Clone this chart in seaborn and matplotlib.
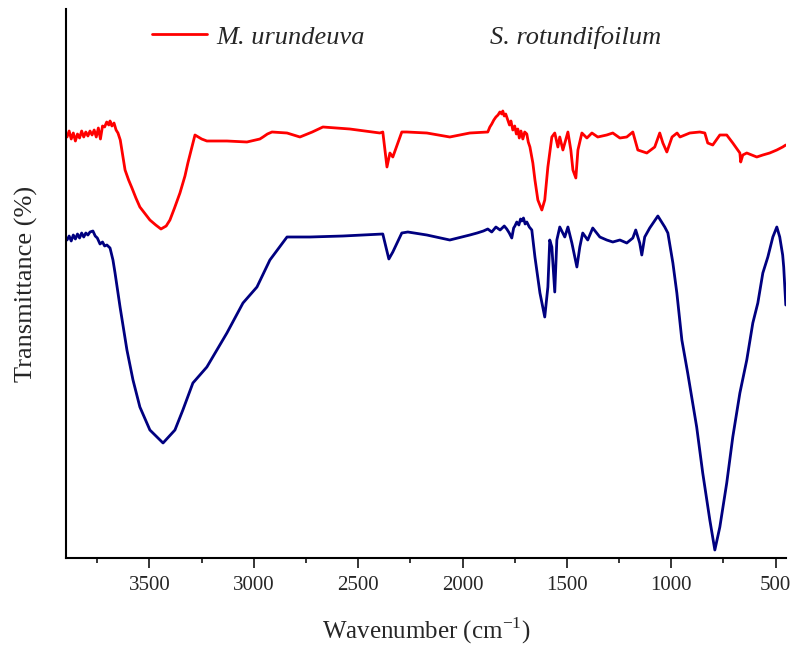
import numpy as np
import pandas as pd
import matplotlib
matplotlib.use("Agg")
import matplotlib.pyplot as plt
import seaborn as sns
from matplotlib.lines import Line2D

# ---------------- data ----------------
series_names = ["M. urundeuva", "S. rotundifoilum"]
series_colors = ["#ff0000", "#000080"]

red_wn = [3895, 3885, 3875, 3865, 3855, 3845, 3835, 3825, 3815, 3805, 3795, 3785,
          3775, 3765, 3755, 3745, 3735, 3725, 3715, 3705, 3695, 3689, 3680, 3670,
          3660, 3651, 3640, 3630, 3617, 3600, 3584, 3565, 3546, 3520, 3498, 3470,
          3445, 3420, 3402, 3380, 3354, 3330, 3316, 3300, 3282, 3250, 3225, 3129,
          3033, 2971, 2956, 2935, 2913, 2841, 2779, 2720, 2669, 2540, 2396, 2382,
          2362, 2348, 2334, 2291, 2267, 2171, 2061, 1965, 1879, 1869, 1860, 1850,
          1840, 1830, 1821, 1812, 1807, 1800, 1793, 1783, 1775, 1768, 1759, 1750,
          1742, 1735, 1728, 1720, 1711, 1702, 1692, 1685, 1677, 1663, 1653, 1639,
          1620, 1606, 1591, 1572, 1558, 1543, 1534, 1519, 1495, 1481, 1471, 1457,
          1447, 1428, 1404, 1380, 1352, 1309, 1280, 1246, 1213, 1184, 1160, 1117,
          1079, 1055, 1040, 1021, 996, 972, 958, 911, 863, 839, 825, 801, 767, 734,
          705, 681, 671, 667, 657, 638, 590, 561, 528, 494, 466, 451]
red_t = [421, 427, 419, 425, 417, 424, 420, 427, 421, 426, 422, 427,
         423, 428, 421, 430, 419, 432, 431, 436, 433, 437, 432, 435,
         428, 425, 418, 405, 388, 378, 370, 360, 351, 344, 338, 333,
         329, 332, 338, 350, 365, 382, 395, 408, 423, 419, 417, 417,
         416, 419, 421, 424, 426, 425, 421, 426, 431, 429, 425, 426,
         391, 405, 401, 426, 426, 425, 421, 425, 426, 431, 434, 438,
         441, 443, 446, 444, 447, 442, 444, 438, 433, 437, 428, 432,
         424, 429, 420, 427, 419, 426, 424, 416, 411, 395, 378, 358,
         348, 358, 391, 421, 425, 411, 421, 408, 426, 408, 388, 380,
         408, 425, 420, 425, 421, 423, 425, 420, 421, 426, 408, 405,
         411, 425, 415, 406, 421, 425, 421, 425, 426, 425, 415, 413, 423, 423,
         415, 408, 405, 396, 403, 405, 401, 403, 405, 408, 411, 413]

blue_wn = [3895, 3885, 3875, 3865, 3855, 3845, 3835, 3825, 3815, 3805, 3795, 3785,
           3771, 3760, 3750, 3737, 3725, 3715, 3704, 3689, 3675, 3665, 3641, 3608,
           3579, 3546, 3498, 3435, 3378, 3340, 3292, 3225, 3129, 3052, 2985, 2923,
           2841, 2731, 2573, 2382, 2367, 2353, 2334, 2291, 2262, 2171, 2061, 1965,
           1930, 1900, 1879, 1860, 1840, 1820, 1800, 1788, 1776, 1764, 1755, 1749,
           1740, 1730, 1722, 1716, 1708, 1700, 1692, 1680, 1668, 1653, 1629, 1606,
           1591, 1582, 1572, 1558, 1548, 1534, 1510, 1495, 1476, 1462, 1452, 1438,
           1424, 1400, 1376, 1342, 1309, 1280, 1246, 1213, 1184, 1170, 1151, 1141,
           1127, 1103, 1064, 1031, 1016, 992, 973, 949, 921, 878, 849, 815, 791,
           767, 734, 705, 671, 638, 609, 585, 561, 537, 513, 494, 480, 466, 461, 451]
blue_t = [318, 322, 317, 323, 319, 324, 320, 325, 321, 325, 323, 326,
          327, 322, 320, 314, 316, 312, 313, 310, 298, 285, 251, 208,
          178, 151, 128, 115, 128, 148, 175, 191, 225, 255, 271, 298,
          321, 321, 322, 324, 311, 299, 306, 325, 326, 323, 318, 323,
          325, 327, 329, 326, 331, 328, 332, 329, 325, 320, 330, 332,
          336, 333, 339, 337, 340, 334, 336, 331, 328, 301, 265, 241,
          271, 318, 311, 266, 318, 331, 321, 331, 315, 301, 291, 311,
          325, 318, 330, 321, 318, 316, 318, 315, 320, 328, 315, 303,
          321, 330, 342, 331, 325, 295, 265, 218, 185, 131, 85, 38, 8,
          31, 75, 121, 165, 198, 235, 255, 285, 301, 321, 331, 321, 303, 291, 253]

x_ticks = [3500, 3000, 2500, 2000, 1500, 1000, 500]

# ---------------- styling ----------------
sns.set_style("white")
plt.rcParams["font.family"] = ["Liberation Serif", "DejaVu Serif"]
plt.rcParams["mathtext.fontset"] = "custom"
plt.rcParams["mathtext.rm"] = "Liberation Serif"

df = pd.concat([
    pd.DataFrame({"wn": red_wn, "T": red_t, "sample": series_names[0]}),
    pd.DataFrame({"wn": blue_wn, "T": blue_t, "sample": series_names[1]}),
])

fig = plt.figure(figsize=(7.95, 6.49), dpi=100)
ax = fig.add_axes([66 / 795, 91 / 649, 720 / 795, 549 / 649])

sns.lineplot(data=df, x="wn", y="T", hue="sample", palette=dict(zip(series_names, series_colors)),
             estimator=None, sort=False, linewidth=2.0, ax=ax, legend=False)

ax.set_xlim(3900, 450)
ax.set_ylim(0, 549)

ax.set_xticks(x_ticks)
ax.set_xticks(np.arange(3750, 450, -500), minor=True)
ax.set_yticks([])
ax.tick_params(axis="x", which="major", direction="out", length=7, width=1.3,
               labelsize=15, pad=6, bottom=True)
ax.tick_params(axis="x", which="minor", direction="out", length=3.5, width=1.3, bottom=True)

for s in ["top", "right"]:
    ax.spines[s].set_visible(False)
for s in ["left", "bottom"]:
    ax.spines[s].set_linewidth(1.5)
    ax.spines[s].set_color("black")

ax.set_xlabel("Wavenumber (cm$^{-1}$)", fontsize=18, labelpad=15)
ax.set_ylabel("Transmittance (%)", fontsize=19, labelpad=20)

handles = [Line2D([], [], color=c, lw=2.0) for c in series_colors]
leg = ax.legend(handles, series_names, ncol=2, frameon=False, loc="center left",
                bbox_to_anchor=((152 - 66) / 720, (558 - 37) / 549),
                borderpad=0, borderaxespad=0, handlelength=2.1, handletextpad=0.35,
                columnspacing=2.3,
                prop={"family": "Liberation Serif", "style": "italic", "size": 19})
leg.legend_handles[1].set_visible(False)

fig.savefig("out.png", dpi=100)
